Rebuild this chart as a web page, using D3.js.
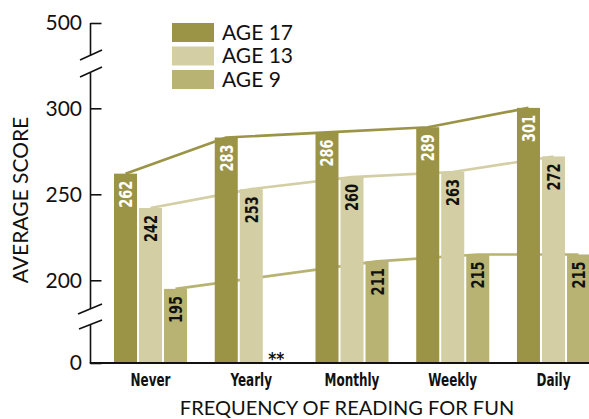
<!DOCTYPE html>
<html>
<head>
<meta charset="utf-8">
<script src="https://cdn.jsdelivr.net/npm/d3@7"></script>
<style>
  html, body { margin: 0; padding: 0; background: #fff; }
  svg { display: block; }
  .sans { font-family: Lato, "Open Sans", "DejaVu Sans", sans-serif; }
  .cond { font-family: "DejaVu Sans Condensed", "Liberation Sans Narrow", sans-serif; font-weight: bold; }
</style>
</head>
<body>
<script>
// ---- data ----
const categories = ["Never", "Yearly", "Monthly", "Weekly", "Daily"];
const seriesNames = ["AGE 17", "AGE 13", "AGE 9"];
const age17 = [262, 283, 286, 289, 301];
const age13 = [242, 253, 260, 263, 272];
const age9  = [195, null, 211, 215, 215];
const yTickValues = [0, 200, 250, 300, 500];
const missingMark = "**";

// ---- setup ----
const W = 589, H = 419;
const colors = {"AGE 17": "#9b9447", "AGE 13": "#d3cea3", "AGE 9": "#b8b372"};
const labelColors = {"AGE 17": "#ffffff", "AGE 13": "#111111", "AGE 9": "#111111"};
const seriesData = {"AGE 17": age17, "AGE 13": age13, "AGE 9": age9};

const svg = d3.select("body").append("svg").attr("width", W).attr("height", H);

const axisX = 90.5;
const baseY = 363;

// broken (piecewise) y scale
const y = d3.scaleLinear()
  .domain([0, 151.9, 300, 500])
  .range([baseY, baseY, 108.3, 23]);

const x = d3.scaleBand().domain(categories).range([114, 590]).paddingInner(0.275).paddingOuter(0);
const xs = d3.scaleBand().domain(seriesNames).range([0, x.bandwidth()]).paddingInner(0.08);

// ---- lines (behind bars) ----
const line = d3.line()
  .defined(d => d.v != null)
  .x(d => d.x)
  .y(d => y(d.v))
  .curve(d3.curveLinear);

seriesNames.forEach(s => {
  const pts = categories.map((c, i) => ({x: x(c) + xs(s) + xs.bandwidth() / 2, v: seriesData[s][i]}))
    .filter(d => d.v != null);
  svg.append("path")
    .attr("d", line(pts))
    .attr("fill", "none")
    .attr("stroke", colors[s])
    .attr("stroke-width", 2.6)
    .attr("stroke-linejoin", "round");
});

// ---- bars ----
seriesNames.forEach(s => {
  const g = svg.append("g");
  categories.forEach((c, i) => {
    const v = seriesData[s][i];
    const bx = x(c) + xs(s);
    if (v == null) {
      g.append("text").attr("class", "cond")
        .attr("x", bx + xs.bandwidth() / 2).attr("y", baseY + 2)
        .attr("text-anchor", "middle").attr("font-size", 17)
        .attr("fill", "#111").text(missingMark);
      return;
    }
    g.append("rect")
      .attr("x", bx).attr("width", xs.bandwidth())
      .attr("y", y(v)).attr("height", baseY - y(v))
      .attr("fill", colors[s]);
    g.append("text").attr("class", "cond")
      .attr("transform", `translate(${bx + xs.bandwidth() / 2},${y(v) + 7}) rotate(-90) scale(0.8,1)`)
      .attr("text-anchor", "end").attr("dy", "0.36em")
      .attr("font-size", 18).attr("fill", labelColors[s])
      .text(v);
  });
});

// ---- y axis ----
const yAxis = d3.axisLeft(y).tickValues(yTickValues).tickSizeInner(-11).tickSizeOuter(0).tickPadding(8.5);
const ga = svg.append("g").attr("transform", `translate(${axisX},0)`).call(yAxis);
ga.select(".domain").remove();
ga.selectAll(".tick line").attr("stroke", "#111").attr("stroke-width", 1.6);
ga.selectAll(".tick text").attr("class", "sans").attr("font-size", 21).attr("fill", "#111");

// axis line segments with breaks
const segs = [[y(500), 55.5], [72.5, 309], [324.7, baseY]];
segs.forEach(([a, b]) => {
  svg.append("line").attr("x1", axisX).attr("x2", axisX).attr("y1", a).attr("y2", b)
    .attr("stroke", "#111").attr("stroke-width", 1.6);
});
const slashes = [[80, 60, 102, 50], [80, 77, 102, 67], [78, 314, 102, 304], [79, 329, 102, 320]];
slashes.forEach(([x1, y1, x2, y2]) => {
  svg.append("line").attr("x1", x1).attr("y1", y1).attr("x2", x2).attr("y2", y2)
    .attr("stroke", "#111").attr("stroke-width", 1.6);
});

// baseline
svg.append("line").attr("x1", axisX - 0.8).attr("x2", W).attr("y1", baseY).attr("y2", baseY)
  .attr("stroke", "#111").attr("stroke-width", 1.8);

// ---- x axis labels ----
const xAxis = d3.axisBottom(x).tickSize(0).tickPadding(10);
const gx = svg.append("g").attr("transform", `translate(0,${baseY})`).call(xAxis);
gx.select(".domain").remove();
gx.selectAll(".tick text").attr("class", "cond").attr("font-size", 18).attr("fill", "#111")
  .attr("transform", "scale(0.74,1)");

// ---- axis titles ----
svg.append("text").attr("class", "sans")
  .attr("x", 347).attr("y", 415).attr("text-anchor", "middle")
  .attr("font-size", 20).attr("fill", "#111")
  .text("FREQUENCY OF READING FOR FUN");
svg.append("text").attr("class", "sans")
  .attr("transform", "translate(28,200) rotate(-90)").attr("text-anchor", "middle")
  .attr("font-size", 21).attr("fill", "#111")
  .text("AVERAGE SCORE");

// ---- legend ----
const lg = svg.append("g").attr("transform", "translate(172,23)");
seriesNames.forEach((s, i) => {
  lg.append("rect").attr("x", 0).attr("y", i * 23.5).attr("width", 42).attr("height", 19).attr("fill", colors[s]);
  lg.append("text").attr("class", "sans").attr("x", 50).attr("y", i * 23.5 + 16.5)
    .attr("font-size", 21).attr("fill", "#111").text(s);
});
</script>
</body>
</html>
